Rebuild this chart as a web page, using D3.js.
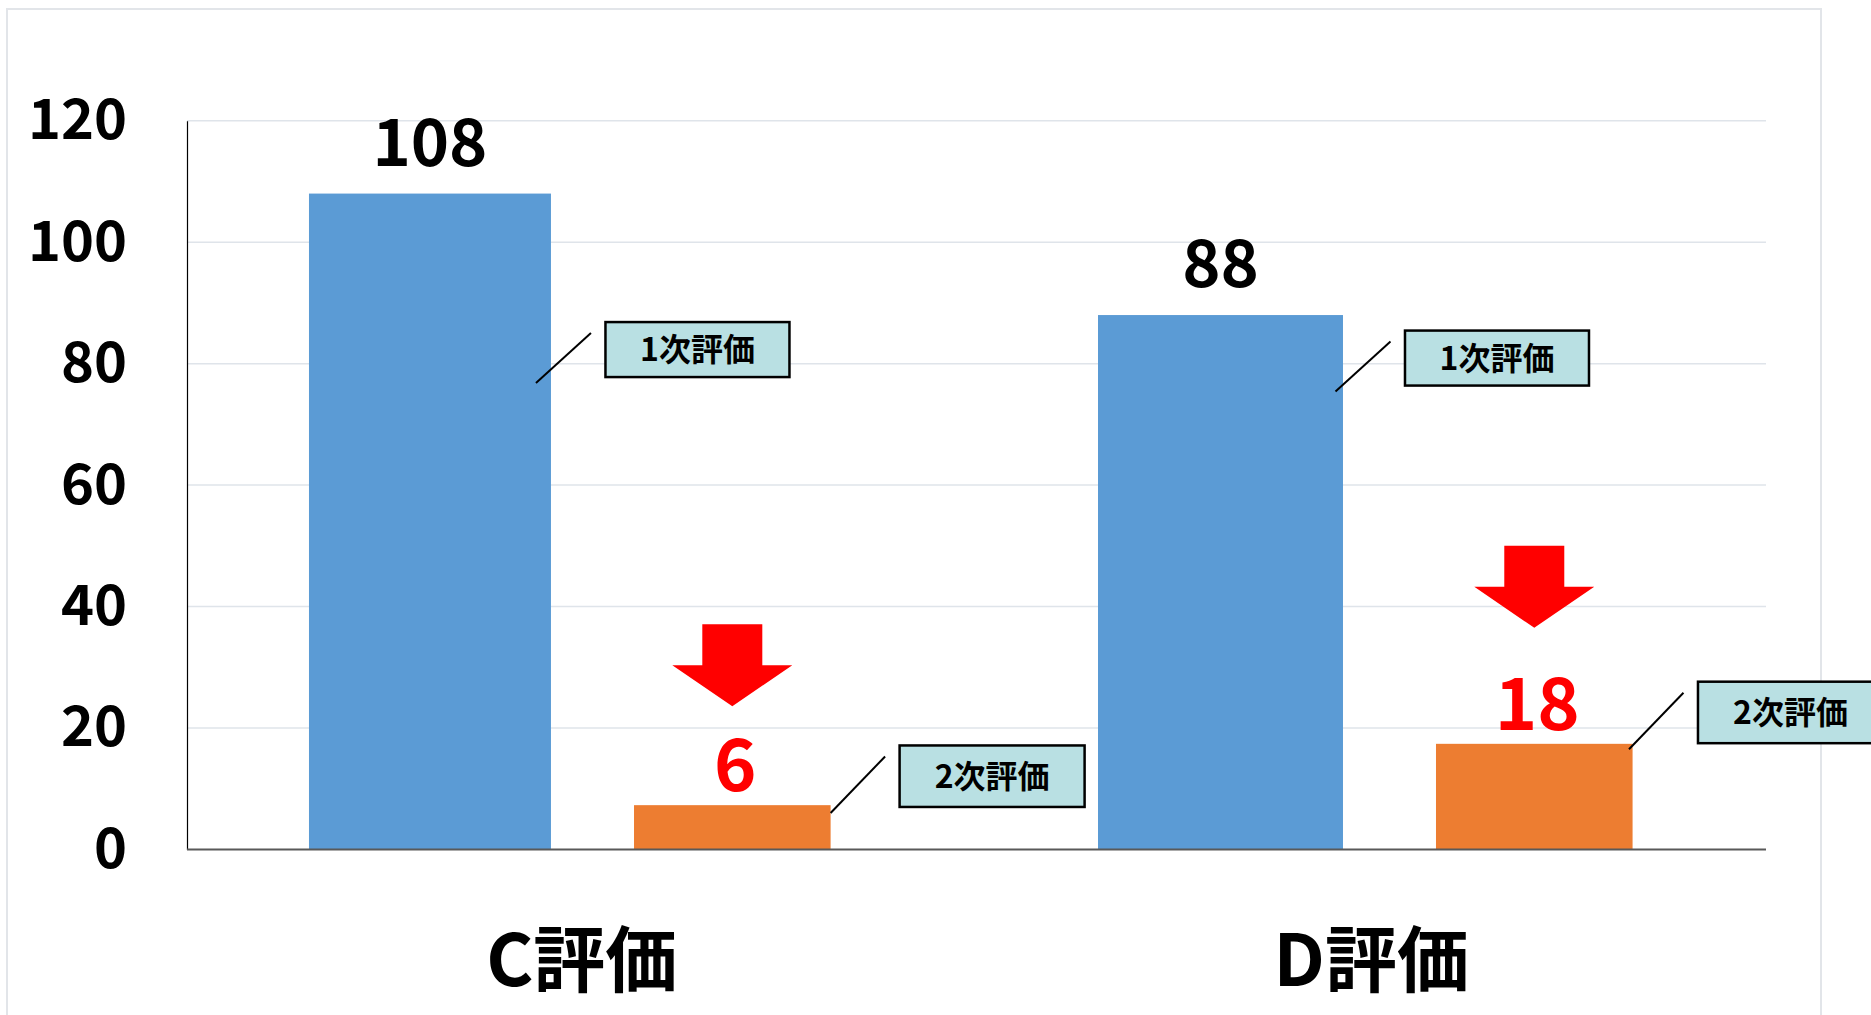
<!DOCTYPE html>
<html>
<head>
<meta charset="utf-8">
<script src="https://cdn.jsdelivr.net/npm/d3@7"></script>
<style>
  html, body { margin: 0; padding: 0; background: #ffffff; overflow: hidden; }
  svg { display: block; }
  text { font-family: "Noto Sans CJK JP", "Noto Sans", sans-serif; font-weight: 700; }
</style>
</head>
<body>
<svg id="chart" width="1871" height="1015"></svg>
<script>
// ---- data ----
const categories = ["C評価", "D評価"];
const seriesNames = ["1次評価", "2次評価"];
const firstValues = [108, 88];
const secondValues = [7.3, 17.4];
const firstLabels = ["108", "88"];
const secondLabels = ["6", "18"];
const yTicks = [0, 20, 40, 60, 80, 100, 120];
const arrowTipValues = [23.6, 36.5];
const calloutAnchorFirst = [76.8, 75.4];
const calloutAnchorSecond = [6.0, 16.5];

// ---- layout ----
const W = 1871, H = 1015;
const plot = { left: 187, right: 1766, top: 120.7, bottom: 849.5 };
const colors = { first: "#5B9BD5", second: "#ED7D31", red: "#FF0000", box: "#B9E0E3" };

const svg = d3.select("#chart");

// outer chart border
svg.append("rect")
  .attr("x", 7).attr("y", 9)
  .attr("width", 1821 - 7).attr("height", H)
  .attr("fill", "#ffffff").attr("stroke", "#e2e5e9").attr("stroke-width", 2);

const x = d3.scaleBand().domain(categories).range([plot.left, plot.right]).padding(0);
const y = d3.scaleLinear().domain([0, 120]).range([plot.bottom, plot.top]);
const bw = x.bandwidth();
// fractional placement of each series within a category band
const firstOff = [0.1545, 0.1539], firstW = [0.3065, 0.3103];
const secondOff = [0.5662, 0.5820], secondW = [0.249, 0.249];
const fx = i => x(categories[i]) + firstOff[i] * bw;
const fw = i => firstW[i] * bw;
const sx = i => x(categories[i]) + secondOff[i] * bw;
const sw = i => secondW[i] * bw;

// gridlines
svg.append("g").selectAll("line").data(yTicks.filter(t => t > 0)).join("line")
  .attr("x1", plot.left).attr("x2", plot.right)
  .attr("y1", d => y(d)).attr("y2", d => y(d))
  .attr("stroke", "#dfe4ea").attr("stroke-width", 1.5);

// y axis (labels via d3.axisLeft)
const yAxis = svg.append("g")
  .attr("transform", `translate(${plot.left},0)`)
  .call(d3.axisLeft(y).tickValues(yTicks).tickSize(0).tickPadding(60).tickFormat(d3.format("d")));
yAxis.select(".domain").attr("stroke", "#000000").attr("stroke-width", 1.2);
yAxis.selectAll("text")
  .attr("font-size", 56).attr("fill", "#000000")
  .style("font-family", '"Noto Sans CJK JP", "Noto Sans", sans-serif').style("font-weight", 700);

// bars
const rows = categories.map((c, i) => ({ c, i, v1: firstValues[i], v2: secondValues[i] }));
svg.append("g").selectAll("rect").data(rows).join("rect")
  .attr("x", d => fx(d.i))
  .attr("width", d => fw(d.i))
  .attr("y", d => y(d.v1))
  .attr("height", d => y(0) - y(d.v1))
  .attr("fill", colors.first);
svg.append("g").selectAll("rect").data(rows).join("rect")
  .attr("x", d => sx(d.i))
  .attr("width", d => sw(d.i))
  .attr("y", d => y(d.v2))
  .attr("height", d => y(0) - y(d.v2))
  .attr("fill", colors.second);

// x axis baseline
svg.append("line")
  .attr("x1", plot.left).attr("x2", plot.right)
  .attr("y1", y(0)).attr("y2", y(0))
  .attr("stroke", "#595959").attr("stroke-width", 2);

// category labels
svg.append("g").selectAll("text").data(categories).join("text")
  .attr("x", d => x(d) + bw / 2)
  .attr("y", 986)
  .attr("text-anchor", "middle")
  .attr("font-size", 72)
  .attr("fill", "#000000")
  .text(d => d);

// value labels
svg.append("g").selectAll("text").data(rows).join("text")
  .attr("x", d => fx(d.i) + fw(d.i) / 2)
  .attr("y", d => y(d.v1) - 28)
  .attr("text-anchor", "middle")
  .attr("font-size", 65)
  .attr("fill", "#000000")
  .text(d => firstLabels[d.i]);
svg.append("g").selectAll("text").data(rows).join("text")
  .attr("x", d => sx(d.i) + sw(d.i) / 2 + 3)
  .attr("y", d => y(d.v2) - 14)
  .attr("text-anchor", "middle")
  .attr("font-size", 72)
  .attr("fill", colors.red)
  .text(d => secondLabels[d.i]);

// red down arrows
const arrow = { shaftW: 60, headW: 120, shaftH: 41, headH: 41 };
svg.append("g").selectAll("path").data(rows).join("path")
  .attr("d", d => {
    const cx = sx(d.i) + sw(d.i) / 2;
    const tip = y(arrowTipValues[d.i]);
    const hy = tip - arrow.headH;
    const ty = hy - arrow.shaftH;
    const p = d3.path();
    p.moveTo(cx - arrow.shaftW / 2, ty);
    p.lineTo(cx + arrow.shaftW / 2, ty);
    p.lineTo(cx + arrow.shaftW / 2, hy);
    p.lineTo(cx + arrow.headW / 2, hy);
    p.lineTo(cx, tip);
    p.lineTo(cx - arrow.headW / 2, hy);
    p.lineTo(cx - arrow.shaftW / 2, hy);
    p.closePath();
    return p.toString();
  })
  .attr("fill", colors.red);

// series callouts
const callouts = [];
rows.forEach(d => {
  callouts.push({ text: seriesNames[0], ax: fx(d.i) + fw(d.i) + [-15, -7.5][d.i],
    ay: y(calloutAnchorFirst[d.i]), dx: 55, dy: -50, bw: 184, bh: 55 });
  callouts.push({ text: seriesNames[1], ax: sx(d.i) + sw(d.i) + [0, -3.6][d.i],
    ay: y(calloutAnchorSecond[d.i]), dx: 54.5, dy: -56.6, bw: 185, bh: 61.5 });
});
const cg = svg.append("g").selectAll("g").data(callouts).join("g");
cg.append("line")
  .attr("x1", d => d.ax).attr("y1", d => d.ay)
  .attr("x2", d => d.ax + d.dx).attr("y2", d => d.ay + d.dy)
  .attr("stroke", "#000000").attr("stroke-width", 2);
cg.append("rect")
  .attr("x", d => d.ax + d.dx + 14.5)
  .attr("y", d => d.ay + d.dy - 11)
  .attr("width", d => d.bw).attr("height", d => d.bh)
  .attr("fill", colors.box).attr("stroke", "#000000").attr("stroke-width", 2.5);
cg.append("text")
  .attr("x", d => d.ax + d.dx + 14.5 + d.bw / 2)
  .attr("y", d => d.ay + d.dy - 11 + d.bh / 2)
  .attr("dy", "0.36em")
  .attr("text-anchor", "middle")
  .attr("font-size", 32)
  .attr("fill", "#000000")
  .text(d => d.text);
</script>
</body>
</html>
